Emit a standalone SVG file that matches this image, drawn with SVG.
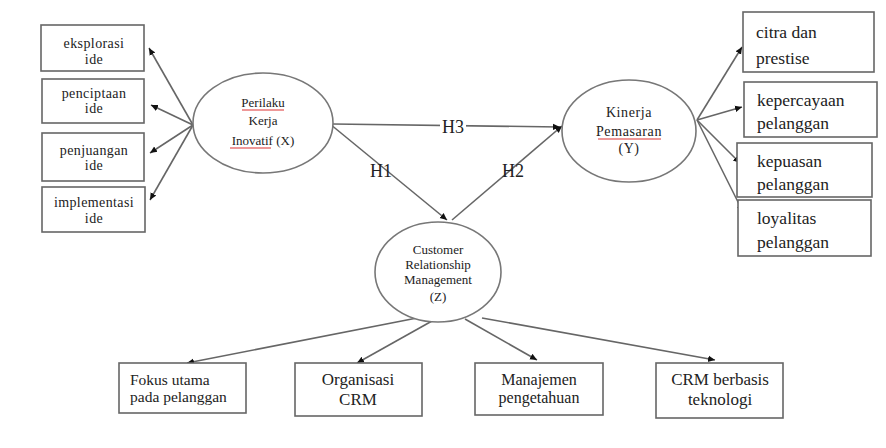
<svg xmlns="http://www.w3.org/2000/svg" width="886" height="448" viewBox="0 0 886 448" font-family="'Liberation Serif', 'DejaVu Serif', 'Times New Roman', serif">
<defs>
<marker id="ah" markerUnits="userSpaceOnUse" markerWidth="8" markerHeight="8" refX="7" refY="4" orient="auto">
<path d="M0,0.8 L7,4 L0,7.2 z" fill="#111"/>
</marker>
<style>
.box{fill:#fff;stroke:#666;stroke-width:1.6}
.ell{fill:#fff;stroke:#777;stroke-width:1.6}
.con{stroke:#666;stroke-width:1.6;fill:none;marker-end:url(#ah)}
text{font-family:'Liberation Serif','DejaVu Serif',serif;fill:#222}
.s{font-size:14px;letter-spacing:0.4px;text-anchor:middle}
.e{font-size:13px;text-anchor:middle}
.ey{font-size:14px;letter-spacing:0.6px;text-anchor:middle}
.r{font-size:17.5px}
.b{font-size:16px;text-anchor:middle}
.h{font-size:18px;text-anchor:middle}
.red{stroke:#d33;stroke-width:1.2}
</style>
</defs>
<rect width="886" height="448" fill="#fff"/>
<g id="connectors">
<line class="con" x1="193" y1="125" x2="149" y2="48"/>
<line class="con" x1="193" y1="125" x2="151" y2="105"/>
<line class="con" x1="193" y1="125" x2="150" y2="153"/>
<line class="con" x1="193" y1="125" x2="150" y2="200"/>
<line class="con" x1="333" y1="124" x2="560" y2="127"/>
<line class="con" x1="330" y1="124" x2="447" y2="220"/>
<line class="con" x1="452" y1="220" x2="562" y2="126"/>
<line class="con" x1="697" y1="120" x2="742" y2="47"/>
<line class="con" x1="697" y1="120" x2="742" y2="107"/>
<line class="con" x1="697" y1="120" x2="740" y2="163"/>
<line class="con" x1="697" y1="120" x2="743" y2="212"/>
<line class="con" x1="417" y1="318" x2="187" y2="363"/>
<line class="con" x1="432" y1="321" x2="357" y2="363"/>
<line class="con" x1="465" y1="319" x2="537" y2="360"/>
<line class="con" x1="482" y1="318" x2="715" y2="360"/>
<rect x="440" y="117" width="26" height="18" fill="#fff"/>
<text class="h" x="453" y="133">H3</text>
<text class="h" x="381" y="177">H1</text>
<text class="h" x="513" y="177">H2</text>
</g>
<g id="n-eksplorasi"><rect class="box" x="41" y="25" width="103" height="46"/><text class="s" x="94" y="48">eksplorasi</text><text class="s" x="94" y="64">ide</text></g>
<g id="n-penciptaan"><rect class="box" x="42" y="79" width="102" height="44"/><text class="s" x="94" y="98">penciptaan</text><text class="s" x="94" y="113">ide</text></g>
<g id="n-penjuangan"><rect class="box" x="42" y="133" width="102" height="48"/><text class="s" x="94" y="155">penjuangan</text><text class="s" x="94" y="170">ide</text></g>
<g id="n-implementasi"><rect class="box" x="42" y="187" width="103" height="45"/><text class="s" x="94" y="207">implementasi</text><text class="s" x="94" y="223">ide</text></g>
<g id="n-x"><ellipse class="ell" cx="263" cy="123" rx="70" ry="50"/>
<text class="e" x="263" y="107">Perilaku</text><text class="e" x="263" y="125">Kerja</text><text class="e" x="263" y="145">Inovatif (X)</text>
<line class="red" x1="242" y1="110" x2="284" y2="110"/><line class="red" x1="230" y1="148" x2="271" y2="148"/></g>
<g id="n-y"><ellipse class="ell" cx="629" cy="131" rx="67" ry="51"/>
<text class="ey" x="629" y="117">Kinerja</text><text class="ey" x="629" y="136">Pemasaran</text><text class="ey" x="629" y="153">(Y)</text>
<line class="red" x1="598" y1="139" x2="661" y2="139"/></g>
<g id="n-z"><ellipse class="ell" cx="438" cy="272" rx="63" ry="50"/>
<text class="e" x="438" y="254">Customer</text><text class="e" x="438" y="269">Relationship</text><text class="e" x="438" y="284">Management</text><text class="e" x="438" y="301">(Z)</text></g>
<g id="n-citra"><rect class="box" x="743" y="12" width="131" height="60"/><text class="r" x="756" y="38">citra dan</text><text class="r" x="756" y="64">prestise</text></g>
<g id="n-kepercayaan"><rect class="box" x="744" y="82" width="133" height="55"/><text class="r" x="757" y="106">kepercayaan</text><text class="r" x="757" y="129">pelanggan</text></g>
<g id="n-kepuasan"><rect class="box" x="737" y="143" width="135" height="54"/><text class="r" x="757" y="167">kepuasan</text><text class="r" x="757" y="190">pelanggan</text></g>
<g id="n-loyalitas"><rect class="box" x="738" y="200" width="133" height="56"/><text class="r" x="757" y="224">loyalitas</text><text class="r" x="757" y="248">pelanggan</text></g>
<g id="n-fokus"><rect class="box" x="119" y="363" width="127" height="50"/><text x="130" y="385" style="font-size:15.5px">Fokus utama</text><text x="130" y="402" style="font-size:15.5px">pada pelanggan</text></g>
<g id="n-organisasi"><rect class="box" x="295" y="363" width="127" height="53"/><text class="b" x="358" y="385" style="font-size:17px">Organisasi</text><text class="b" x="358" y="405" style="font-size:17px">CRM</text></g>
<g id="n-manajemen"><rect class="box" x="475" y="363" width="128" height="52"/><text class="b" x="539" y="385">Manajemen</text><text class="b" x="539" y="403">pengetahuan</text></g>
<g id="n-crm"><rect class="box" x="656" y="363" width="127" height="55"/><text class="b" x="720" y="385" style="font-size:17px">CRM berbasis</text><text class="b" x="720" y="405" style="font-size:17px">teknologi</text></g>
</svg>
